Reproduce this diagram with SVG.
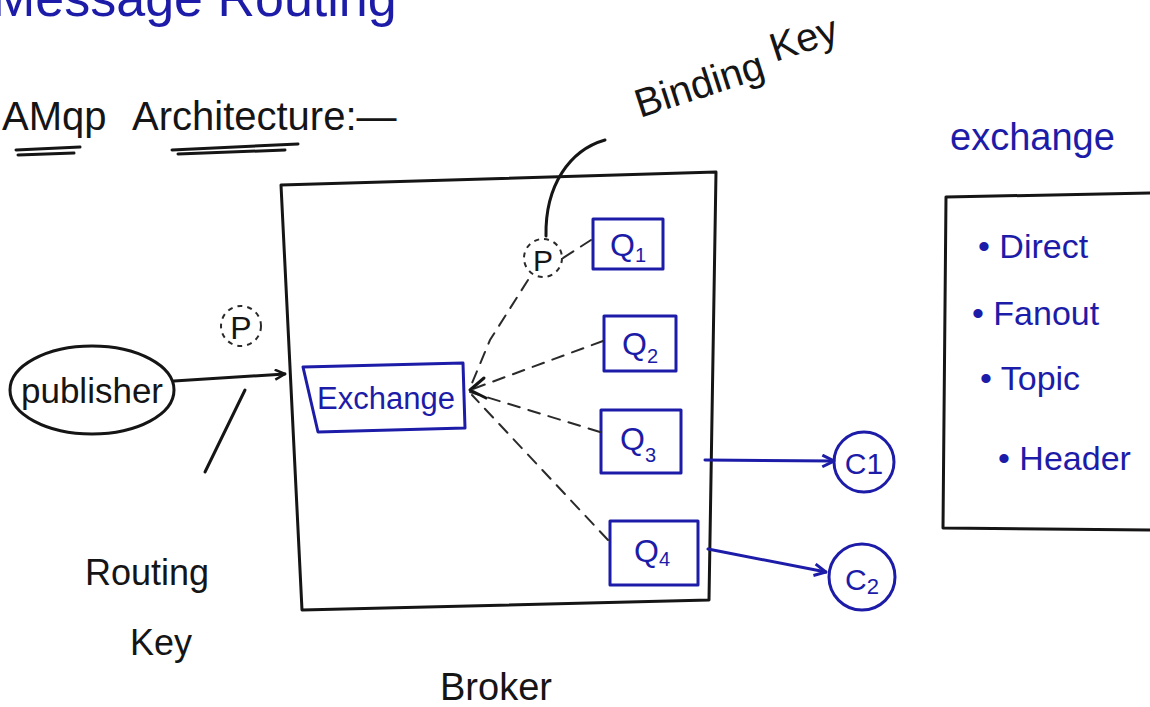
<svg xmlns="http://www.w3.org/2000/svg" width="1150" height="707" viewBox="0 0 1150 707">
  <style>
    .ink { fill: none; stroke: #151515; stroke-width: 3; stroke-linecap: round; stroke-linejoin: round; }
    .blue { fill: none; stroke: #1c1ca8; stroke-width: 3; stroke-linecap: round; stroke-linejoin: round; }
    .dash { fill: none; stroke: #2a2a2a; stroke-width: 2; stroke-dasharray: 12 9; stroke-linecap: round; }
    .pdash { fill: none; stroke: #2a2a2a; stroke-width: 2; stroke-dasharray: 5 5; }
    .tk { font-family: "Liberation Sans", "DejaVu Sans", sans-serif; fill: #151515; }
    .tb { font-family: "Liberation Sans", "DejaVu Sans", sans-serif; fill: #1c1ca8; }
  </style>
  <defs>
    <marker id="openK" viewBox="0 0 12 12" refX="11" refY="6" markerWidth="12" markerHeight="12" markerUnits="userSpaceOnUse" orient="auto">
      <path d="M1,1 L11,6 L1,11" fill="none" stroke="#151515" stroke-width="2.5"/>
    </marker>
    <marker id="openB" viewBox="0 0 12 12" refX="11" refY="6" markerWidth="14" markerHeight="14" markerUnits="userSpaceOnUse" orient="auto">
      <path d="M1,1 L11,6 L1,11" fill="none" stroke="#1c1ca8" stroke-width="2.5"/>
    </marker>
  </defs>
  <rect width="1150" height="707" fill="#ffffff"/>

  <!-- heading line, running off the top edge of the page -->
  <text class="tb" x="-8" y="16" font-size="52">Message Routing</text>

  <!-- section title -->
  <g id="title">
    <text class="tk" x="2" y="130" font-size="40">AMqp</text>
    <text class="tk" x="132" y="130" font-size="40">Architecture:—</text>
    <path class="ink" d="M16,150 L80,147 M18,155 L74,153"/>
    <path class="ink" d="M172,150 L298,144 M178,154 L285,150" stroke-width="2.5"/>
  </g>

  <!-- broker boundary -->
  <g id="broker">
    <path class="ink" d="M281,185 L716,172 L709,600 L302,610 Z"/>
    <text class="tk" x="440" y="700" font-size="38">Broker</text>
  </g>

  <!-- publisher -->
  <g id="publisher">
    <ellipse class="ink" cx="92" cy="390" rx="82" ry="44"/>
    <text class="tk" x="92" y="403" font-size="35" text-anchor="middle">publisher</text>
  </g>

  <!-- message packet near the publisher -->
  <g id="packet-in">
    <circle class="pdash" cx="241" cy="326" r="20"/>
    <text class="tk" x="241" y="339" font-size="32" text-anchor="middle">P</text>
  </g>

  <!-- routing key label -->
  <g id="routing-key">
    <text class="tk" x="85" y="585" font-size="36">Routing</text>
    <text class="tk" x="130" y="655" font-size="36">Key</text>
  </g>

  <!-- exchange -->
  <g id="exchange">
    <path class="blue" d="M303,367 L463,363 L465,428 L318,432 Z"/>
    <text class="tb" x="386" y="409" font-size="31" text-anchor="middle">Exchange</text>
  </g>

  <!-- queues -->
  <g id="q1">
    <rect class="blue" x="593" y="219" width="70" height="50"/>
    <text class="tb" x="628" y="256" font-size="32" text-anchor="middle">Q<tspan font-size="20" dy="6">1</tspan></text>
  </g>
  <g id="q2">
    <rect class="blue" x="604" y="316" width="72" height="55"/>
    <text class="tb" x="640" y="355" font-size="32" text-anchor="middle">Q<tspan font-size="20" dy="8">2</tspan></text>
  </g>
  <g id="q3">
    <rect class="blue" x="601" y="410" width="80" height="63"/>
    <text class="tb" x="638" y="450" font-size="32" text-anchor="middle">Q<tspan font-size="20" dy="12">3</tspan></text>
  </g>
  <g id="q4">
    <rect class="blue" x="610" y="521" width="88" height="64"/>
    <text class="tb" x="652" y="562" font-size="32" text-anchor="middle">Q<tspan font-size="20" dy="4">4</tspan></text>
  </g>

  <!-- packet waiting at Q1 -->
  <g id="packet-q1">
    <circle class="pdash" cx="543" cy="258" r="19"/>
    <text class="tk" x="543" y="271" font-size="30" text-anchor="middle">P</text>
  </g>

  <!-- binding key label -->
  <g id="binding-key">
    <text class="tk" x="640" y="118" font-size="40" transform="rotate(-18 640 118)">Binding</text>
    <text class="tk" x="775" y="62" font-size="40" transform="rotate(-18 775 62)">Key</text>
  </g>

  <!-- consumers -->
  <g id="c1">
    <circle class="blue" cx="864" cy="462" r="30"/>
    <text class="tb" x="864" y="474" font-size="30" text-anchor="middle">C1</text>
  </g>
  <g id="c2">
    <circle class="blue" cx="862" cy="577" r="33"/>
    <text class="tb" x="862" y="590" font-size="30" text-anchor="middle">C<tspan font-size="22" dy="4">2</tspan></text>
  </g>

  <!-- exchange types panel -->
  <g id="exchange-types">
    <text class="tb" x="950" y="150" font-size="38">exchange</text>
    <path class="ink" d="M946,197 L1150,193 M946,197 L943,528 L1150,530"/>
    <text class="tb" x="978" y="258" font-size="34">• Direct</text>
    <text class="tb" x="972" y="325" font-size="34">• Fanout</text>
    <text class="tb" x="980" y="390" font-size="34">• Topic</text>
    <text class="tb" x="998" y="470" font-size="34">• Header</text>
  </g>

  <!-- connectors -->
  <g id="connectors">
    <path class="ink" d="M174,381 L285,374" marker-end="url(#openK)"/>
    <path class="ink" d="M245,390 L205,472" stroke-width="2.5"/>
    <path class="ink" d="M605,140 C570,150 545,185 546,236" stroke-width="2.5"/>
    <path class="dash" d="M591,240 L563,258 M528,280 L490,340 L470,388"/>
    <path class="dash" d="M603,341 L470,390"/>
    <path class="dash" d="M600,432 L470,392"/>
    <path class="dash" d="M608,540 L472,395"/>
    <path class="ink" d="M484,378 L470,390 L486,398" stroke-width="2.5"/>
    <path class="blue" d="M705,460 L834,461" marker-end="url(#openB)"/>
    <path class="blue" d="M708,549 L826,572" marker-end="url(#openB)"/>
  </g>
</svg>
